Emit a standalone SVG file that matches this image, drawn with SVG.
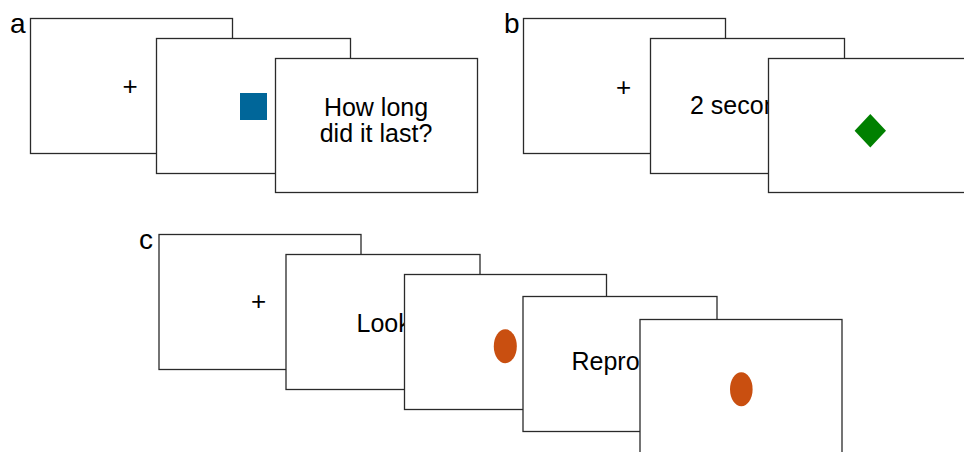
<svg xmlns="http://www.w3.org/2000/svg" width="964" height="452" viewBox="0 0 964 452">
<style>
.card{fill:#fff;stroke:#2a2a2a;stroke-width:1.3}
.t{font-family:"Liberation Sans",Arial,sans-serif;font-size:25px;fill:#000}
.lbl{font-family:"Liberation Sans",Arial,sans-serif;font-size:28px;fill:#000}
.plus{font-family:"Liberation Sans",Arial,sans-serif;font-size:26px;fill:#000;text-anchor:middle}
.dot{fill:#C94F10}
</style>
<rect width="964" height="452" fill="#fff"/>
<g id="labels">
<text class="lbl" x="10" y="33">a</text>
<text class="lbl" x="504" y="33">b</text>
<text class="lbl" x="139" y="249">c</text>
</g>
<g id="connectors"></g>
<g id="a1"><rect class="card" x="30.5" y="18.5" width="202" height="135"/><text class="plus" x="130" y="95">+</text></g>
<g id="a2"><rect class="card" x="156.5" y="38.5" width="194" height="135"/><rect x="240" y="93" width="27" height="27" fill="#006699"/></g>
<g id="a3"><rect class="card" x="275.5" y="58.5" width="202" height="134"/><text class="t" x="376" y="116" text-anchor="middle">How long</text><text class="t" x="376" y="142" text-anchor="middle">did it last?</text></g>
<g id="b1"><rect class="card" x="523.5" y="18.5" width="202" height="135"/><text class="plus" x="623.5" y="96">+</text></g>
<g id="b2"><rect class="card" x="650.5" y="38.5" width="194" height="135"/><text class="t" x="690" y="113.5">2 seconds</text></g>
<g id="b3"><rect class="card" x="768.5" y="58.5" width="202" height="134"/><polygon points="870.3,114 886,130.7 870.3,147.4 854.6,130.7" fill="#008000"/></g>
<g id="c1"><rect class="card" x="159" y="234.5" width="202" height="135"/><text class="plus" x="258.5" y="310">+</text></g>
<g id="c2"><rect class="card" x="286" y="254.5" width="194" height="135"/><text class="t" x="356.5" y="331.5">Look</text></g>
<g id="c3"><rect class="card" x="404.5" y="274.5" width="202" height="135"/><ellipse class="dot" cx="505.3" cy="346.3" rx="11.5" ry="17"/></g>
<g id="c4"><rect class="card" x="523" y="296.5" width="194" height="135"/><text class="t" x="571.5" y="370">Reproduce</text></g>
<g id="c5"><rect class="card" x="640" y="319.5" width="202" height="136"/><ellipse class="dot" cx="741.3" cy="389.3" rx="11.3" ry="17"/></g>
</svg>
